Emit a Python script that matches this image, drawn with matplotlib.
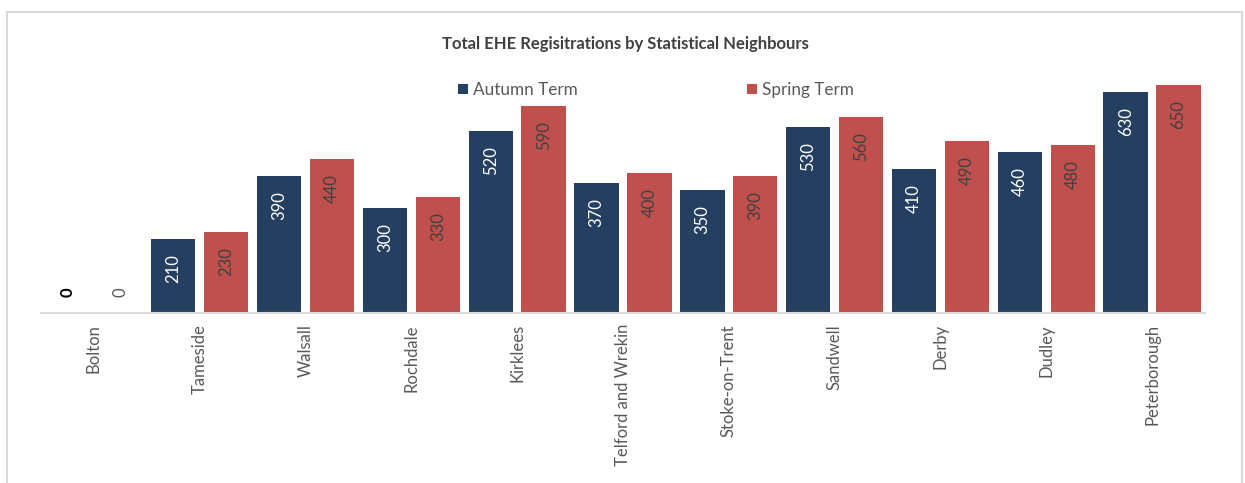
import matplotlib

matplotlib.use("Agg")
import matplotlib.pyplot as plt
import numpy as np
from matplotlib.patches import Rectangle

areas = ["Bolton", "Tameside", "Walsall", "Rochdale", "Kirklees",
         "Telford and Wrekin", "Stoke-on-Trent", "Sandwell", "Derby",
         "Dudley", "Peterborough"]
autumn = [0, 210, 390, 300, 520, 370, 350, 530, 410, 460, 630]
spring = [0, 230, 440, 330, 590, 400, 390, 560, 490, 480, 650]

NAVY = "#243F60"
RED = "#C0504D"
GREY = "#595959"

plt.rcParams["font.family"] = ["Lato", "DejaVu Sans"]

W, H = 1245, 483
fig = plt.figure(figsize=(W / 100, H / 100), dpi=100)

# outer chart frame (bottom edge is cut off in the original)
fig.patches.append(Rectangle((7 / W, -0.1), (1242 - 7) / W, 1.1 - 12 / H,
                             transform=fig.transFigure, fill=False,
                             edgecolor="#d9d9d9", lw=1.5))

# plot area: x 41..1205, baseline y=313
ax = fig.add_axes([41 / W, 1 - 313 / H, (1205 - 41) / W, (313 - 60) / H])
x = np.arange(len(areas))
bw = 0.42
off = 0.25
ymax = (313 - 60) / ((313 - 85) / 650)

b1 = ax.bar(x - off, autumn, bw, color=NAVY, label="Autumn Term")
b2 = ax.bar(x + off, spring, bw, color=RED, label="Spring Term")

ax.set_xlim(-0.5, len(areas) - 0.5)
ax.set_ylim(0, ymax)
for s in ("top", "right", "left"):
    ax.spines[s].set_visible(False)
ax.spines["bottom"].set_color("#d9d9d9")
ax.spines["bottom"].set_linewidth(1.5)
ax.set_yticks([])
ax.set_xticks(x)
ax.set_xticklabels(areas, rotation=90, fontsize=12, color=GREY)
ax.tick_params(axis="x", length=0, pad=8)

# value labels, rotated inside the bar tops
for bars, vals, col, zcol in ((b1, autumn, "white", "black"), (b2, spring, "#404040", GREY)):
    for rect, v in zip(bars, vals):
        cx = rect.get_x() + rect.get_width() / 2
        if v == 0:
            ax.annotate("0", (cx, 0), xytext=(0, 15), textcoords="offset points",
                        ha="center", va="center", rotation=90, fontsize=12,
                        color=zcol, fontweight="bold" if zcol == "black" else "normal")
        else:
            ax.annotate(f"{v}", (cx, v), xytext=(0, -11), textcoords="offset points",
                        ha="center", va="top", rotation=90, fontsize=12, color=col)

fig.text(625 / W, 1 - 44 / H, "Total EHE Regisitrations by Statistical Neighbours",
         ha="center", va="center", fontsize=12, fontweight="bold", color="#404040")

fig.legend(loc="center", bbox_to_anchor=(656 / W, 1 - 90 / H), ncol=2, frameon=False,
           fontsize=12.3, handlelength=0.6, handleheight=0.6, handletextpad=0.3,
           columnspacing=9.9, labelcolor=GREY)

fig.savefig("out.png", dpi=100)
